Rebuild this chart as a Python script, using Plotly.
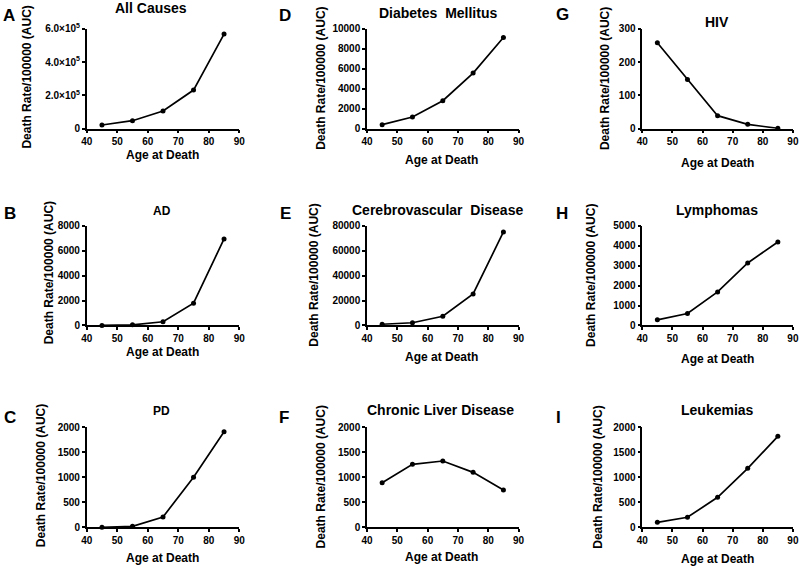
import plotly.graph_objects as go

ages = [45, 55, 65, 75, 85]

panel_letters = ["A", "D", "G", "B", "E", "H", "C", "F", "I"]
panel_titles = ["All Causes", "Diabetes  Mellitus", "HIV", "AD", "Cerebrovascular  Disease",
                "Lymphomas", "PD", "Chronic Liver Disease", "Leukemias"]

all_causes = [22000, 48000, 106000, 232000, 568000]
diabetes = [400, 1170, 2800, 5570, 9130]
hiv = [258, 148, 39, 13, 1]
ad = [5, 50, 300, 1790, 6930]
cerebro = [1000, 2200, 7400, 25300, 74900]
lymphomas = [283, 600, 1680, 3130, 4180]
pd_vals = [0, 20, 207, 1000, 1913]
liver = [893, 1260, 1327, 1100, 747]
leukemias = [100, 200, 600, 1180, 1820]

series = [all_causes, diabetes, hiv, ad, cerebro, lymphomas, pd_vals, liver, leukemias]

y_max = [600000, 10000, 300, 8000, 80000, 5000, 2000, 2000, 2000]
y_dtick = [200000, 2000, 100, 2000, 20000, 1000, 500, 500, 500]
x_ticks = [40, 50, 60, 70, 80, 90]
a_tickvals = [0, 200000, 400000, 600000]
a_ticktext = ["0", "2.0×10<sup>5</sup>", "4.0×10<sup>5</sup>", "6.0×10<sup>5</sup>"]

W, H = 800, 566
FONT = "Liberation Sans, Arial, sans-serif"

boxes = [
    (85, 238, 28, 128), (366, 518, 28, 128), (642, 793, 28, 128),
    (85, 238, 225, 325), (366, 518, 225, 325), (642, 793, 225, 325),
    (85, 238, 427, 527), (366, 518, 427, 527), (642, 793, 427, 527),
]
title_pos = [(149, 7), (437, 12), (717, 21), (160, 210), (437, 209), (717, 209),
             (160, 411), (440, 410), (717, 410)]
xtitle_pos = [(161, 154), (441, 159), (717, 162), (161, 352), (441, 357), (717, 359),
              (161, 558), (441, 557), (717, 559)]
ytitle_pos = [(25, 76), (320, 78), (604, 78), (47, 272), (312, 275), (590, 275),
              (40, 475), (320, 477), (598, 477)]
letter_pos = [(7, 15), (284, 15), (562, 14), (8, 213), (284, 213), (562, 213),
              (8, 417), (283, 417), (558, 417)]

fig = go.Figure()
annotations = []

# measured photograph mapping compensation
SX, OX = 0.9875, 4.1
SY, OY = 0.978, 6.2


def px(x):
    return ((x - OX) / SX) / W


def py(y):
    return 1 - ((y - OY) / SY) / H


for i in range(9):
    n = "" if i == 0 else str(i + 1)
    l, r, t, b = boxes[i]
    fig.add_trace(go.Scatter(
        x=ages, y=series[i], mode="lines+markers",
        line=dict(color="black", width=1.7),
        marker=dict(color="black", size=5),
        xaxis="x" + n, yaxis="y" + n, cliponaxis=False, showlegend=False,
    ))
    xa = dict(domain=[px(l), px(r)], anchor="y" + n, range=[40, 90],
              tickvals=x_ticks, showline=True, linecolor="black", linewidth=1.5,
              ticks="outside", ticklen=3, tickwidth=1.5, tickcolor="black",
              showgrid=False, zeroline=False,
              tickfont=dict(family=FONT, size=10, color="black", weight="bold"))
    ya = dict(domain=[py(b), py(t)], anchor="x" + n, range=[0, y_max[i]],
              showline=True, linecolor="black", linewidth=1.5,
              ticks="outside", ticklen=3, tickwidth=1.5, tickcolor="black",
              showgrid=False, zeroline=False, tickformat="d",
              tickfont=dict(family=FONT, size=10, color="black", weight="bold"))
    if i == 0:
        ya.update(tickvals=a_tickvals, ticktext=a_ticktext)
    else:
        ya.update(tick0=0, dtick=y_dtick[i])
    fig.update_layout({"xaxis" + n: xa, "yaxis" + n: ya})

    tsize = 12 if panel_titles[i] in ("AD", "PD") else 14
    annotations.append(dict(text=panel_titles[i], x=px(title_pos[i][0]), y=py(title_pos[i][1]),
                            xref="paper", yref="paper", showarrow=False,
                            xanchor="center", yanchor="middle",
                            font=dict(family=FONT, size=tsize, color="black", weight="bold")))
    annotations.append(dict(text="Age at Death", x=px(xtitle_pos[i][0]), y=py(xtitle_pos[i][1]),
                            xref="paper", yref="paper", showarrow=False,
                            xanchor="center", yanchor="middle",
                            font=dict(family=FONT, size=12, color="black", weight="bold")))
    annotations.append(dict(text="Death Rate/100000 (AUC)", x=px(ytitle_pos[i][0]),
                            y=py(ytitle_pos[i][1]), textangle=-90,
                            xref="paper", yref="paper", showarrow=False,
                            xanchor="center", yanchor="middle",
                            font=dict(family=FONT, size=12, color="black", weight="bold")))
    annotations.append(dict(text=panel_letters[i], x=px(letter_pos[i][0]), y=py(letter_pos[i][1]),
                            xref="paper", yref="paper", showarrow=False,
                            xanchor="center", yanchor="middle",
                            font=dict(family=FONT, size=17, color="black", weight="bold")))

fig.update_layout(
    width=W, height=H, margin=dict(l=0, r=0, t=0, b=0),
    paper_bgcolor="white", plot_bgcolor="white",
    annotations=annotations,
)

fig.write_html("out.html", config={"displayModeBar": False},
               post_script="document.body.style.margin='0';document.body.style.overflow='hidden';")
